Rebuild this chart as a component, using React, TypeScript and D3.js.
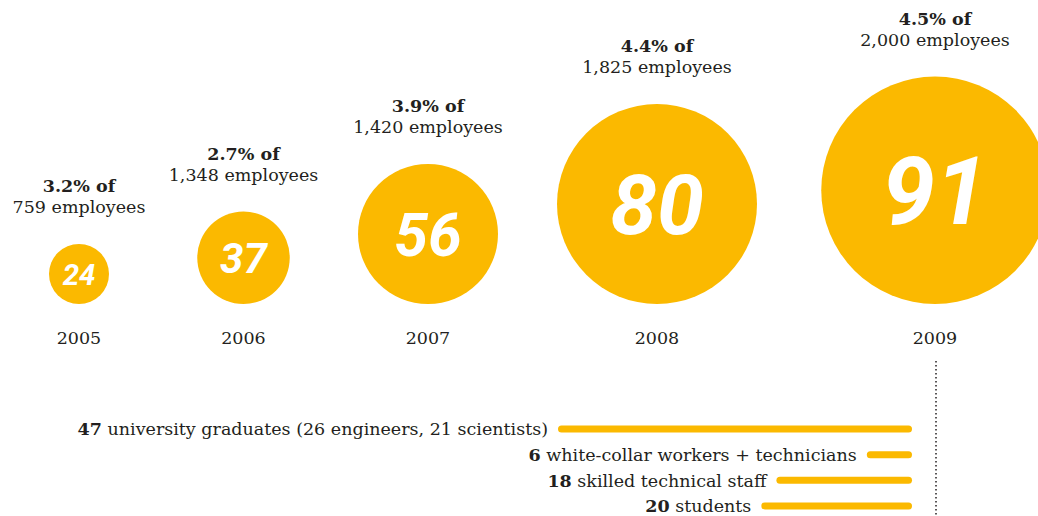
import React from "react";
import * as d3 from "d3";

const years = ["2005", "2006", "2007", "2008", "2009"];
const counts = [24, 37, 56, 80, 91];
const shares = ["3.2%", "2.7%", "3.9%", "4.4%", "4.5%"];
const employees = ["759", "1,348", "1,420", "1,825", "2,000"];

const breakdownValues = [47, 6, 18, 20];
const breakdownLabels = [
  "university graduates (26 engineers, 21 scientists)",
  "white-collar workers + technicians",
  "skilled technical staff",
  "students",
];

const W = 1038;
const H = 516;
const YELLOW = "#FBB900";
const INK = "#231f20";
const SERIF = "'DejaVu Serif', serif";
const FS = 17.5;

export default function App() {
  const r = d3.scaleLinear().domain([0, 91]).range([0, 113.75]);
  const x = d3
    .scaleOrdinal<string, number>()
    .domain(years)
    .range([79, 243.5, 428, 657, 935]);
  const baseY = 304;
  const fontFor = (v: number) => 0.78 * r(v) + 6;

  const barRight = 912;
  const barLen = d3.scaleLinear().domain([0, 47]).range([0, 354]);
  const barY = d3
    .scalePoint<number>()
    .domain(d3.range(breakdownValues.length))
    .range([429, 506]);

  return (
    <svg
      width={W}
      height={H}
      style={{ position: "absolute", left: 0, top: 0, background: "#fff" }}
    >
      {years.map((yr, i) => {
        const cx = x(yr);
        const rad = r(counts[i]);
        const cy = baseY - rad;
        const top = cy - rad;
        return (
          <g key={yr}>
            <circle cx={cx} cy={cy} r={rad} fill={YELLOW} />
            <text
              x={cx}
              y={cy}
              dy="0.36em"
              textAnchor="middle"
              fill="#fff"
              fontFamily="Roboto, sans-serif"
              fontWeight={700}
              fontStyle="italic"
              fontSize={fontFor(counts[i])}
            >
              {counts[i]}
            </text>
            <text
              x={cx}
              y={top - 52}
              textAnchor="middle"
              fill={INK}
              fontFamily={SERIF}
              fontWeight={700}
              fontSize={FS}
            >
              {shares[i]} of
            </text>
            <text
              x={cx}
              y={top - 31}
              textAnchor="middle"
              fill={INK}
              fontFamily={SERIF}
              fontSize={FS}
            >
              {employees[i]} employees
            </text>
            <text
              x={cx}
              y={344}
              textAnchor="middle"
              fill={INK}
              fontFamily={SERIF}
              fontSize={FS}
            >
              {yr}
            </text>
          </g>
        );
      })}

      <line
        x1={x("2009") + 1}
        x2={x("2009") + 1}
        y1={361}
        y2={H}
        stroke={INK}
        strokeWidth={1.5}
        strokeDasharray="1.5,2.5"
      />

      {breakdownValues.map((v, i) => {
        const y = barY(i) as number;
        const len = barLen(v);
        const x0 = barRight - len;
        return (
          <g key={i}>
            <rect
              x={x0}
              y={y - 3.5}
              width={len}
              height={7}
              rx={3.5}
              fill={YELLOW}
            />
            <text
              x={x0 - 10}
              y={y}
              dy="0.36em"
              textAnchor="end"
              fill={INK}
              fontFamily={SERIF}
              fontSize={FS}
            >
              <tspan fontWeight={700}>{v}</tspan> {breakdownLabels[i]}
            </text>
          </g>
        );
      })}
    </svg>
  );
}
